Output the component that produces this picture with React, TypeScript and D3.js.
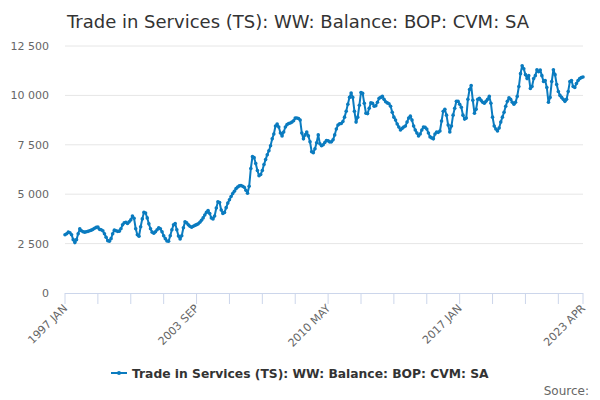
import * as d3 from 'd3';

const title = 'Trade in Services (TS): WW: Balance: BOP: CVM: SA';
const seriesName = 'Trade in Services (TS): WW: Balance: BOP: CVM: SA';
const startYear = 1997;
const monthNames = ['JAN', 'FEB', 'MAR', 'APR', 'MAY', 'JUN', 'JUL', 'AUG', 'SEP', 'OCT', 'NOV', 'DEC'];

// monthly values, 1997 JAN .. 2023 APR
const values: number[] = [
  2950, 3000, 3080, 3050, 2950, 2700, 2550, 2700, 3000, 3250, 3150, 3100, // 1997
  3080, 3100, 3120, 3150, 3180, 3220, 3280, 3320, 3340, 3220, 3200, 3150, // 1998
  3000, 2820, 2650, 2620, 2750, 3000, 3180, 3150, 3120, 3130, 3250, 3450, // 1999
  3550, 3580, 3520, 3600, 3700, 3900, 3780, 3250, 2950, 2870, 3350, 3750, // 2000
  4080, 4050, 3800, 3500, 3250, 3080, 3020, 3100, 3200, 3300, 3250, 3100, // 2001
  2900, 2750, 2630, 2620, 2900, 3200, 3450, 3520, 3200, 2880, 2730, 2900, // 2002
  3300, 3600, 3550, 3450, 3380, 3330, 3380, 3420, 3460, 3500, 3580, 3680, // 2003
  3800, 3950, 4080, 4170, 4020, 3800, 3750, 3900, 4300, 4620, 4580, 4200, // 2004
  4020, 4080, 4320, 4550, 4720, 4880, 5030, 5150, 5280, 5360, 5420, 5440, // 2005
  5400, 5350, 5200, 5050, 5400, 6300, 6900, 6850, 6550, 6200, 5930, 6000, // 2006
  6200, 6500, 6750, 7000, 7200, 7450, 7800, 8050, 8450, 8550, 8400, 8100, // 2007
  7950, 8150, 8400, 8520, 8580, 8600, 8650, 8720, 8850, 8860, 8830, 8750, // 2008
  8100, 7800, 8000, 8150, 7950, 7650, 7150, 7100, 7300, 7600, 8000, 7550, // 2009
  7450, 7500, 7620, 7720, 7700, 7640, 7650, 7750, 8000, 8300, 8500, 8560, // 2010
  8580, 8680, 8900, 9200, 9550, 9900, 10120, 9900, 9200, 8650, 8900, 9500, // 2011
  10150, 10100, 9600, 9100, 9080, 9350, 9620, 9600, 9450, 9480, 9650, 9850, // 2012
  9900, 9950, 9800, 9680, 9620, 9580, 9450, 9150, 8900, 8750, 8550, 8400, // 2013
  8250, 8330, 8400, 8450, 8650, 8850, 8950, 8750, 8450, 8250, 8100, 7950, // 2014
  8050, 8250, 8400, 8380, 8300, 8100, 7900, 7850, 7800, 8050, 8150, 8130, // 2015
  8200, 8700, 9200, 9300, 9000, 8500, 8150, 8450, 9000, 9350, 9700, 9700, // 2016
  9550, 9400, 9000, 8800, 8850, 9800, 10300, 10500, 9750, 9100, 9300, 9800, // 2017
  9850, 9750, 9650, 9600, 9700, 9800, 9950, 9600, 8900, 8450, 8300, 8200, // 2018
  8350, 8650, 8900, 9150, 9450, 9700, 9880, 9800, 9650, 9550, 9650, 9950, // 2019
  10450, 11100, 11500, 11350, 11050, 10850, 11000, 10350, 10450, 10850, 11000, 11300, // 2020
  11200, 11280, 11000, 10700, 10750, 10400, 9650, 9900, 10700, 11300, 11050, 10550, // 2021
  10200, 10000, 9900, 9800, 9700, 9800, 10200, 10700, 10750, 10450, 10400, 10600, // 2022
  10750, 10850, 10900, 10930, // 2023
];

const yTicks = [0, 2500, 5000, 7500, 10000, 12500];
const xTickIdx = [0, 20, 40, 60, 80, 100, 120, 140, 160, 180, 200, 220, 240, 260, 280, 300, 315];
const xLabelIdx = [0, 80, 160, 240, 315];

const W = 600;
const H = 400;
const font = '"DejaVu Sans", Verdana, sans-serif';
const lineColor = '#0a7bbf';

const monthLabel = (i: number) => `${startYear + Math.floor(i / 12)} ${monthNames[i % 12]}`;
const fmt = (v: number) => d3.format(',')(v).replace(/,/g, ' ');

export default function App() {
  const x = d3.scaleLinear().domain([0, values.length - 1]).range([65, 583]);
  const y = d3.scaleLinear().domain([0, 12500]).range([293, 46]);

  const line = d3
    .line<number>()
    .x((_, i) => x(i))
    .y((v) => y(v));

  return (
    <svg
      width={W}
      height={H}
      viewBox={`0 0 ${W} ${H}`}
      style={{ position: 'absolute', left: 0, top: 0, background: '#fff', fontFamily: font }}
    >
      <text x={298} y={28} textAnchor="middle" fontSize={18} fill="#333333">
        {title}
      </text>

      {yTicks.map((t) => (
        <g key={`y-${t}`}>
          {t > 0 && <line x1={65} x2={583} y1={y(t)} y2={y(t)} stroke="#e6e6e6" strokeWidth={1} />}
          <text x={49} y={y(t) + 4} textAnchor="end" fontSize={11} fill="#666666">
            {fmt(t)}
          </text>
        </g>
      ))}

      <line x1={65} x2={583} y1={293.5} y2={293.5} stroke="#ccd6eb" strokeWidth={1} />
      {xTickIdx.map((i) => (
        <line key={`xt-${i}`} x1={x(i)} x2={x(i)} y1={293} y2={304} stroke="#ccd6eb" strokeWidth={1} />
      ))}
      {xLabelIdx.map((i) => (
        <text
          key={`xl-${i}`}
          transform={`translate(${x(i) + 3},${309}) rotate(-45)`}
          textAnchor="end"
          fontSize={11}
          fill="#666666"
        >
          {monthLabel(i)}
        </text>
      ))}

      <path d={line(values) ?? ''} fill="none" stroke={lineColor} strokeWidth={2} strokeLinejoin="round" />
      {values.map((v, i) => (
        <circle key={i} cx={x(i)} cy={y(v)} r={1.8} fill={lineColor} />
      ))}

      <g transform="translate(0,373)">
        <line x1={111} x2={127} y1={0} y2={0} stroke={lineColor} strokeWidth={2} />
        <circle cx={119} cy={0} r={2} fill={lineColor} />
        <text x={132} y={4.5} fontSize={12.3} fontWeight="bold" fill="#333333">
          {seriesName}
        </text>
      </g>

      <text x={589} y={395} textAnchor="end" fontSize={12} fill="#666666">
        Source:
      </text>
    </svg>
  );
}
